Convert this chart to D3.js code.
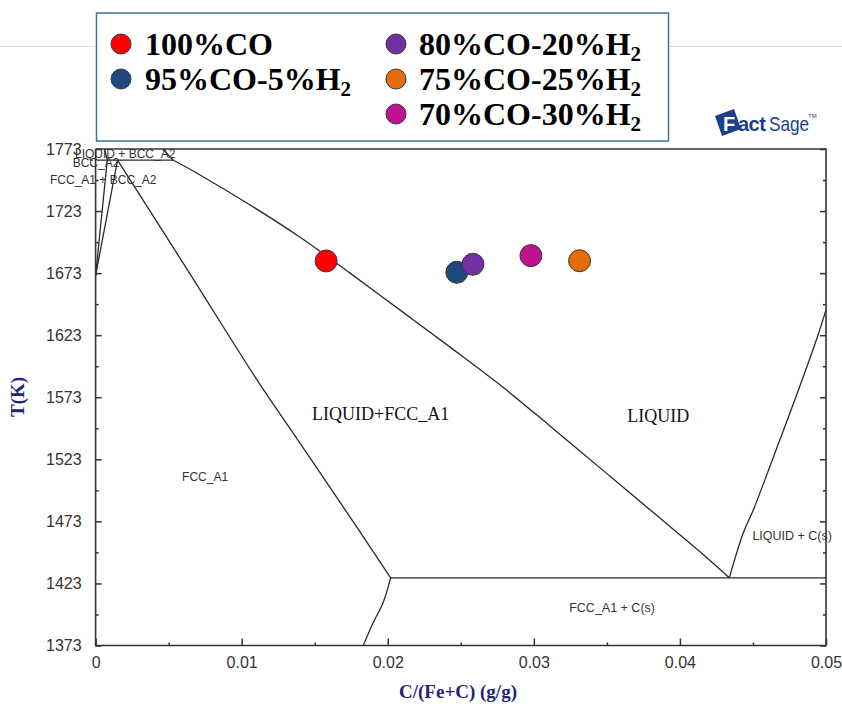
<!DOCTYPE html>
<html>
<head>
<meta charset="utf-8">
<script src="https://cdn.jsdelivr.net/npm/d3@7/dist/d3.min.js"></script>
<style>
  html, body { margin: 0; padding: 0; background: #fff; }
  svg { display: block; }
</style>
</head>
<body>
<svg id="chart" width="842" height="706"></svg>
<script>
// ---------------- DATA ----------------
const xTicks = [0, 0.01, 0.02, 0.03, 0.04, 0.05];
const xTickLabels = ["0", "0.01", "0.02", "0.03", "0.04", "0.05"];
const xMinorTicks = [0.005, 0.015, 0.025, 0.035, 0.045];
const yTicks = [1373, 1423, 1473, 1523, 1573, 1623, 1673, 1723, 1773];
const yTickLabels = ["1373", "1423", "1473", "1523", "1573", "1623", "1673", "1723", "1773"];
const yMinorTicks = [1398, 1448, 1498, 1548, 1598, 1648, 1698, 1748];

// phase boundaries [C (g/g), T (K)]
const liquidusFcc = [[0.0053,1764.1],[0.00715,1752.1],[0.01058,1727.9],[0.01400,1701.9],[0.01742,1673.0],
  [0.02085,1643.2],[0.02427,1613.4],[0.02770,1582.8],[0.03112,1549.7],[0.03455,1515.9],[0.03797,1482.1],
  [0.04140,1448.3],[0.04338,1427.5]];
const solidusFcc = [[0.0015,1764.1],[0.00646,1672.4],[0.01105,1587.0],[0.01379,1539.5],[0.01653,1492.0],
  [0.0202,1427.5]];
const eutecticLine = [[0.0202,1427.5],[0.05,1427.5]];
const acmLine = [[0.0202,1427.5],[0.01968,1407.5],[0.0190,1391.4],[0.01832,1373]];
const liquidusGraphite = [[0.04338,1427.5],[0.04434,1463.8],[0.04503,1482.3],[0.04633,1522.6],
  [0.04804,1576.5],[0.04941,1621.6],[0.05,1643.4]];
const deltaBoundary = [[0,1671],[0.0008,1764.1]];
const gammaDeltaBoundary = [[0,1671],[0.0015,1764.1]];
const peritecticLine = [[0.0001,1764.1],[0.0053,1764.1]];
const deltaSolidus = [[0.0008,1764.1],[0.0006,1773]];
const deltaLiquidus = [[0.0053,1764.1],[0.0046,1773]];

// experimental points
const seriesNames = ["100%CO", "95%CO-5%H2", "80%CO-20%H2", "75%CO-25%H2", "70%CO-30%H2"];
const seriesColors = ["#ff0000", "#1f497d", "#7030a0", "#e46c0a", "#c0128e"];
const seriesC = [0.01578, 0.02473, 0.02583, 0.03313, 0.0298];
const seriesT = [1682.8, 1673.7, 1680.2, 1683.0, 1687.1];
const drawOrder = [0, 1, 2, 4, 3];

// region labels (anchor at start of baseline, data coords)
const regionLabels = [
  {text: "LIQUID + BCC_A2", c: -0.00141, t: 1765.5, font: "sans", size: 12},
  {text: "BCC_A2", c: -0.00157, t: 1758.8, font: "sans", size: 12},
  {text: "FCC_A1 + BCC_A2", c: -0.00312, t: 1744.8, font: "sans", size: 12},
  {text: "FCC_A1", c: 0.00592, t: 1505.9, font: "sans", size: 12},
  {text: "LIQUID+FCC_A1", c: 0.01482, t: 1554.8, font: "serif", size: 18},
  {text: "LIQUID", c: 0.03640, t: 1553.2, font: "serif", size: 18},
  {text: "LIQUID + C(s)", c: 0.04496, t: 1458.2, font: "sans", size: 12.5},
  {text: "FCC_A1 + C(s)", c: 0.03242, t: 1400.2, font: "sans", size: 12.5}
];

// ---------------- DRAW ----------------
const svg = d3.select("#chart");
const sans = "'Liberation Sans', Arial, sans-serif";
const serif = "'Liberation Serif', 'Times New Roman', serif";
const X0 = 95.6, X1 = 826, Y0 = 645.5, Y1 = 149;
const x = d3.scaleLinear().domain([0, 0.05]).range([X0, X1]);
const y = d3.scaleLinear().domain([1373, 1773]).range([Y0, Y1]);

// faint slide line
svg.append("line").attr("x1", 0).attr("x2", 842).attr("y1", 46.5).attr("y2", 46.5)
  .attr("stroke", "#dcdcdc").attr("stroke-width", 1);

// phase lines
const smooth = d3.line().x(d => x(d[0])).y(d => y(d[1])).curve(d3.curveCatmullRom.alpha(0.5));
const curves = [liquidusFcc, solidusFcc, eutecticLine, acmLine, liquidusGraphite,
  deltaBoundary, gammaDeltaBoundary, peritecticLine, deltaSolidus, deltaLiquidus];
svg.append("g").selectAll("path").data(curves).join("path")
  .attr("d", smooth).attr("fill", "none").attr("stroke", "#2a2a2a").attr("stroke-width", 1.3)
  .attr("stroke-linejoin", "round");

// axes
function styleAxis(g) {
  g.select(".domain").remove();
  g.selectAll("line").attr("stroke", "#333").attr("stroke-width", 1.5);
  g.selectAll("text").attr("fill", "#333").attr("font-family", sans).attr("font-size", 16);
}
svg.append("g").attr("transform", `translate(${X0},0)`)
  .call(d3.axisLeft(y).tickValues(yTicks).tickSize(-6).tickPadding(14)
    .tickFormat((d, i) => yTickLabels[i])).call(styleAxis);
svg.append("g").attr("transform", `translate(${X0},0)`)
  .call(d3.axisLeft(y).tickValues(yMinorTicks).tickSize(-3).tickFormat("")).call(styleAxis);
svg.append("g").attr("transform", `translate(${X1},0)`)
  .call(d3.axisRight(y).tickValues(yTicks).tickSize(-6).tickFormat("")).call(styleAxis);
svg.append("g").attr("transform", `translate(${X1},0)`)
  .call(d3.axisRight(y).tickValues(yMinorTicks).tickSize(-3).tickFormat("")).call(styleAxis);
svg.append("g").attr("transform", `translate(0,${Y0})`)
  .call(d3.axisBottom(x).tickValues(xTicks).tickSize(-7).tickPadding(11)
    .tickFormat((d, i) => xTickLabels[i])).call(styleAxis);
svg.append("g").attr("transform", `translate(0,${Y0})`)
  .call(d3.axisBottom(x).tickValues(xMinorTicks).tickSize(-3).tickFormat("")).call(styleAxis);

// frame
svg.append("path")
  .attr("d", `M${X0},${Y1}L${X0},${Y0}L${X1},${Y0}L${X1},${Y1}L${X0},${Y1}`)
  .attr("fill", "none").attr("stroke", "#333").attr("stroke-width", 1.6);

// region labels
svg.append("g").selectAll("text").data(regionLabels).join("text")
  .attr("x", d => x(d.c)).attr("y", d => y(d.t))
  .attr("font-family", d => d.font === "serif" ? serif : sans)
  .attr("font-size", d => d.size)
  .attr("fill", d => d.font === "serif" ? "#111" : "#333")
  .text(d => d.text);

// axis titles
const navy = "#24247c";
svg.append("text").attr("x", 458).attr("y", 698).attr("text-anchor", "middle")
  .attr("font-family", serif).attr("font-weight", "bold").attr("font-size", 19).attr("fill", navy)
  .text("C/(Fe+C) (g/g)");
svg.append("text").attr("transform", "translate(24,397) rotate(-90)").attr("text-anchor", "middle")
  .attr("font-family", serif).attr("font-weight", "bold").attr("font-size", 19).attr("fill", navy)
  .text("T(K)");

// data points
svg.append("g").selectAll("circle").data(drawOrder).join("circle")
  .attr("cx", i => x(seriesC[i])).attr("cy", i => y(seriesT[i])).attr("r", 11)
  .attr("fill", i => seriesColors[i]).attr("stroke", "#3a3a3a").attr("stroke-width", 1);

// legend
const lg = svg.append("g");
lg.append("rect").attr("x", 96.5).attr("y", 13).attr("width", 572).attr("height", 128)
  .attr("fill", "#fff").attr("stroke", "#41719c").attr("stroke-width", 1.5);
const legendPos = [[121, 145, 55], [121, 145, 90], [396, 419, 55], [396, 419, 90], [396, 419, 125]];
const legendOrder = [0, 1, 2, 3, 4];
legendOrder.forEach((si, k) => {
  const [mx, tx, by] = legendPos[k];
  lg.append("circle").attr("cx", mx).attr("cy", by - 11).attr("r", 10)
    .attr("fill", seriesColors[si]).attr("stroke", "#3a3a3a").attr("stroke-width", 1);
  const name = seriesNames[si];
  const t = lg.append("text").attr("x", tx).attr("y", by)
    .attr("font-family", serif).attr("font-weight", "bold").attr("font-size", 32).attr("fill", "#000");
  if (name.endsWith("H2")) {
    t.append("tspan").text(name.slice(0, -1));
    t.append("tspan").attr("font-size", 21).attr("dy", 6).text("2");
  } else {
    t.text(name);
  }
});

// FactSage logo
const logo = svg.append("g").attr("transform", "translate(715,109)");
logo.append("path").attr("d", "M0,7 L19,0 L26,20 L7,27 Z").attr("fill", "#1b3f8b");
logo.append("text").attr("x", 8).attr("y", 22).attr("font-family", sans).attr("font-weight", "bold")
  .attr("font-size", 20).attr("fill", "#fff").text("F");
logo.append("text").attr("x", 23).attr("y", 22).attr("font-family", sans).attr("font-weight", "bold")
  .attr("font-size", 20).attr("fill", "#1b3f8b").attr("letter-spacing", -0.5).text("act");
logo.append("text").attr("transform", "translate(54,22) scale(0.82,1)").attr("font-family", sans)
  .attr("font-size", 21).attr("fill", "#1b3f8b").text("Sage");
logo.append("text").attr("x", 93).attr("y", 9).attr("font-family", sans)
  .attr("font-size", 6).attr("fill", "#1b3f8b").text("TM");
</script>
</body>
</html>
